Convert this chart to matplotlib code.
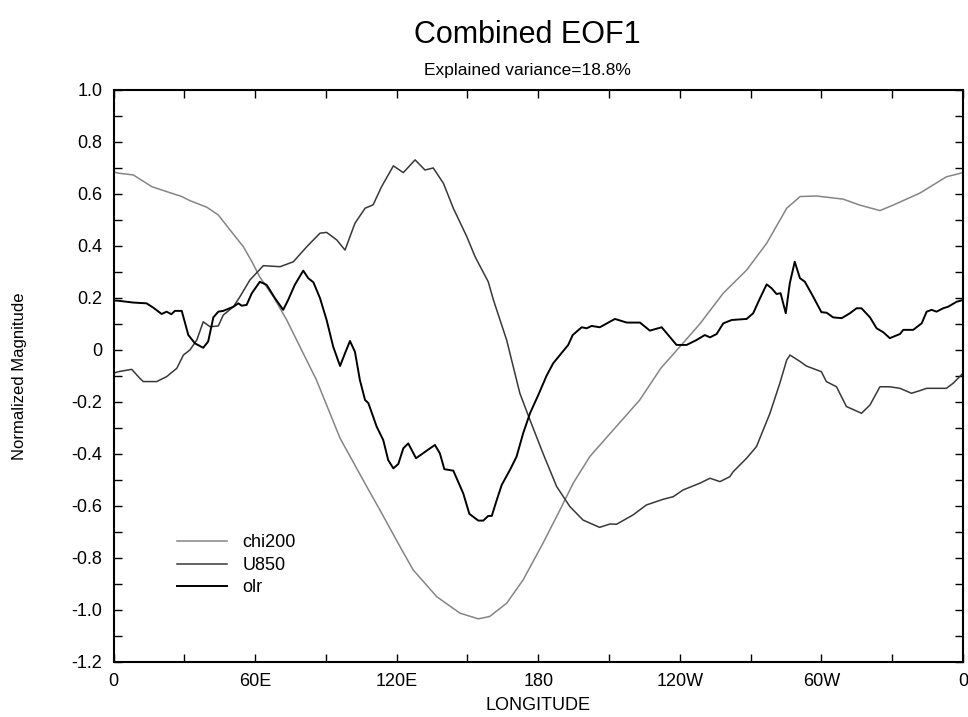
import matplotlib
matplotlib.use("Agg")
from matplotlib import pyplot as plt
from matplotlib.ticker import MultipleLocator

plt.rcParams['font.family'] = ['Liberation Sans', 'DejaVu Sans']

# chi200 (light gray)
chi_lon = [0, 2, 8.4, 16.2, 22.5, 28.9, 32.4, 39.5, 44.4, 49.4, 55, 58.6, 62, 67.7, 73.4, 79,
           86, 96, 107.3, 113, 121.4, 127, 137, 146.8, 154.6, 159.4, 166.6, 173.6, 182, 189.2,
           194.8, 201.9, 211.8, 223, 232, 240, 248.5, 258.4, 268.3, 276.8, 285.3, 291, 298,
           309.2, 316.3, 324.8, 330.4, 341.7, 353, 360]
chi_val = [0.685, 0.68, 0.673, 0.628, 0.609, 0.59, 0.574, 0.549, 0.519, 0.461, 0.397, 0.34, 0.28,
           0.205, 0.115, 0.012, -0.116, -0.34, -0.526, -0.618, -0.757, -0.847, -0.95, -1.013,
           -1.035, -1.026, -0.975, -0.885, -0.744, -0.616, -0.513, -0.41, -0.308, -0.193, -0.07,
           0.012, 0.10, 0.218, 0.307, 0.41, 0.545, 0.59, 0.592, 0.58, 0.557, 0.536, 0.557,
           0.603, 0.666, 0.682]

# U850 (dark gray)
u_lon = [0, 2, 7.7, 11.2, 12.6, 18.3, 22.5, 26.8, 29.6, 32.4, 35.3, 38, 40.9, 44.4, 46.5, 50.8,
         53.6, 57.8, 63.5, 70.6, 76.2, 81.9, 87.5, 90.3, 94.6, 98.1, 102.3, 106.6, 110, 113.6,
         118.6, 122.8, 127.8, 132, 135.5, 139.8, 144, 149.7, 153.2, 158.8, 161, 166.6, 168.7,
         172.2, 176.5, 182, 187.8, 193.4, 199, 206, 210.4, 213.2, 220.2, 225.8, 232.9, 237.2,
         241.4, 248.5, 252.8, 257, 261.2, 262.6, 268.3, 272.5, 278.2, 282.4, 285.3, 286.7,
         291, 293.6, 300, 302.1, 306.4, 310.6, 317, 320.6, 324.8, 329, 333.3, 338.2, 341.7,
         344.6, 353, 355.9, 360]
u_val = [-0.09, -0.084, -0.075, -0.11, -0.122, -0.122, -0.103, -0.071, -0.02, 0.0, 0.038, 0.108,
         0.089, 0.092, 0.134, 0.166, 0.205, 0.269, 0.324, 0.32, 0.339, 0.397, 0.449, 0.452,
         0.423, 0.384, 0.487, 0.545, 0.558, 0.628, 0.708, 0.682, 0.731, 0.692, 0.70, 0.641,
         0.545, 0.436, 0.359, 0.262, 0.192, 0.038, -0.039, -0.167, -0.27, -0.398, -0.526,
         -0.603, -0.655, -0.683, -0.67, -0.671, -0.635, -0.597, -0.575, -0.565, -0.539, -0.513,
         -0.494, -0.507, -0.488, -0.469, -0.417, -0.372, -0.244, -0.128, -0.039, -0.02, -0.045,
         -0.062, -0.084, -0.122, -0.142, -0.218, -0.244, -0.212, -0.142, -0.142, -0.148, -0.167,
         -0.157, -0.148, -0.148, -0.128, -0.09]

# olr (black)
olr_lon = [0, 2, 8.4, 14, 16.9, 20.4, 22.5, 24.5, 26, 28.9, 31.7, 34.5, 38, 40.1, 42.3, 44.4,
           46.5, 50.8, 52.9, 54.3, 56.4, 58.6, 62, 64.9, 68.4, 71.9, 74, 76.8, 80.4, 82.5, 84.7,
           87.5, 90.3, 93.1, 96, 98.1, 100.2, 102.3, 104.4, 106.6, 108, 111.5, 114.3, 116.4,
           118.6, 120.7, 122.8, 124.9, 128.2, 132.7, 136.2, 138.3, 140.2, 144, 148.2, 150.8,
           154.6, 156.7, 158.8, 160.3, 162.4, 164.5, 168, 170.8, 173.6, 176.5, 180, 183.5,
           186.3, 189.8, 192.7, 194.6, 198.4, 200.5, 202.6, 206.1, 212.5, 217.5, 223.1, 227.3,
           232.3, 235, 238.6, 242.9, 247.1, 250.6, 252.8, 255.6, 258.4, 262, 268.3, 271.1, 274,
           276.8, 278.9, 281, 282.7, 284.9, 286.6, 288.7, 290.9, 293, 296.5, 300, 302.2, 305,
           308.6, 312.1, 314.9, 317, 320.6, 323.4, 326.2, 329, 333.3, 334.7, 338.9, 342.5,
           344.6, 346.7, 348.8, 351.6, 353.7, 357.3, 360]
olr_val = [0.19, 0.189, 0.182, 0.179, 0.162, 0.138, 0.147, 0.137, 0.15, 0.15, 0.057, 0.025, 0.008,
           0.032, 0.125, 0.147, 0.15, 0.166, 0.179, 0.17, 0.173, 0.218, 0.262, 0.25, 0.199, 0.154,
           0.192, 0.25, 0.305, 0.276, 0.26, 0.199, 0.115, 0.012, -0.062, -0.013, 0.034, -0.007,
           -0.116, -0.193, -0.205, -0.295, -0.347, -0.424, -0.456, -0.439, -0.379, -0.36, -0.417,
           -0.388, -0.366, -0.398, -0.459, -0.465, -0.552, -0.631, -0.657, -0.657, -0.639,
           -0.639, -0.578, -0.52, -0.462, -0.411, -0.321, -0.244, -0.174, -0.1, -0.052, -0.013,
           0.019, 0.057, 0.087, 0.083, 0.092, 0.087, 0.119, 0.105, 0.105, 0.074, 0.087, 0.058,
           0.019, 0.019, 0.038, 0.057, 0.048, 0.061, 0.102, 0.115, 0.119, 0.141, 0.199, 0.252,
           0.237, 0.215, 0.218, 0.141, 0.256, 0.339, 0.276, 0.262, 0.205, 0.145, 0.143, 0.125,
           0.122, 0.141, 0.16, 0.16, 0.125, 0.083, 0.068, 0.045, 0.061, 0.077, 0.077, 0.102,
           0.147, 0.154, 0.147, 0.16, 0.166, 0.185, 0.192]

xtick_pos = [0, 60, 120, 180, 240, 300, 360]
xtick_lab = ["0", "60E", "120E", "180", "120W", "60W", "0"]
ytick_pos = [1.0, 0.8, 0.6, 0.4, 0.2, 0, -0.2, -0.4, -0.6, -0.8, -1.0, -1.2]
ytick_lab = ["1.0", "0.8", "0.6", "0.4", "0.2", "0", "-0.2", "-0.4", "-0.6", "-0.8", "-1.0", "-1.2"]

fig = plt.figure(figsize=(9.68, 7.17), dpi=100)
ax = fig.add_axes([0.1173, 0.0771, 0.8775, 0.7974])

ax.plot(chi_lon, chi_val, color="#858585", lw=1.1, label="chi200")
ax.plot(u_lon, u_val, color="#383838", lw=1.1, label="U850")
ax.plot(olr_lon, olr_val, color="black", lw=1.4, label="olr")

ax.set_xlim(0, 360)
ax.set_ylim(-1.2, 1.0)
ax.set_xticks(xtick_pos)
ax.set_xticklabels(xtick_lab)
ax.set_yticks(ytick_pos)
ax.set_yticklabels(ytick_lab)
ax.xaxis.set_minor_locator(MultipleLocator(30))
ax.yaxis.set_minor_locator(MultipleLocator(0.1))
ax.tick_params(which="both", direction="in", top=True, right=True, length=6, width=1,
               labelsize=13, pad=8)
for s in ax.spines.values():
    s.set_linewidth(1.5)

ax.set_xlabel("LONGITUDE", fontsize=13, labelpad=5)
ax.set_ylabel("Normalized Magnitude", fontsize=12, labelpad=32)

fig.text(0.545, 0.951, "Combined EOF1", ha="center", va="center", fontsize=22)
fig.text(0.545, 0.902, "Explained variance=18.8%", ha="center", va="center", fontsize=12.5)

ax.legend(loc="lower left", bbox_to_anchor=(0.055, 0.086), frameon=False, fontsize=13,
          handlelength=2.8, handletextpad=0.85, labelspacing=0.3)

plt.savefig("out.png")
